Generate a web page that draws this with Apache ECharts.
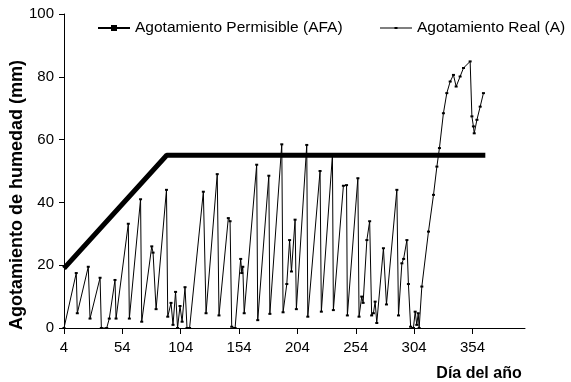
<!DOCTYPE html>
<html><head><meta charset="utf-8">
<script src="https://cdn.jsdelivr.net/npm/echarts@6/dist/echarts.min.js"></script>
<style>html,body{margin:0;padding:0;background:#fff}#c{width:571px;height:382px}</style>
</head><body><div id="c"></div>
<script>
// Tick labels
const xTicks = [4, 54, 104, 154, 204, 254, 304, 354];
const yTicks = [0, 20, 40, 60, 80, 100];
// Agotamiento Permisible (AFA)
const afaDays   = [4, 92, 365];
const afaValues = [19, 55, 55];
// Agotamiento Real (A)
const realDays = [4, 14.5, 15.4, 24.8, 26.3, 34.9, 36, 40.6, 42.8, 47.7, 48.6, 59.1, 60, 69.6, 70.6, 79.2, 80.3, 82.9, 91.8, 92.9,
  95.7, 97.4, 99.6, 101.3, 103.4, 105.2, 107.7, 109.4, 111.6,
  123.4, 125.7, 135.3, 136.8, 144.8, 146.3, 147.7, 150.6, 155.4, 156.3, 157.2, 158.4, 169.1, 170, 179.5, 180.4,
  190.6, 191.7, 194.9, 197.3, 198.9, 202, 203.1, 212, 212.9, 223.4, 224.5, 234, 234.8, 243.4, 246.1, 246.8,
  255.8, 256.8, 259.1, 260.3, 263.5, 265.9, 267.6, 269.1, 270.6, 272, 277.7, 280.3, 289.2, 290.6, 293.5, 295,
  297.8, 299.1, 301, 303.4, 304.9, 306.3, 307.5, 308.3, 310.6, 316.3, 320.6, 323.5, 325.7, 329.1, 332, 334.9,
  337.7, 340, 343.4, 346.3, 352, 353.5, 354.8, 355.5, 357.8, 360.6, 363.4];
const realValues = [0, 17.5, 4.7, 19.5, 3, 16, 0, 0, 3, 15.3, 3, 33.2, 3, 41, 2, 26, 24, 6, 44, 3.6,
  8, 1, 11.5, 0, 7, 2, 13, 0, 0,
  43.4, 4.7, 49, 4, 35, 34, 0.4, 0, 22, 17.5, 19.5, 4.7, 52, 2.5, 48.5, 4.5,
  58.5, 5, 14, 28, 18, 34.5, 6, 58.3, 3.6, 50, 5.2, 55, 5.7, 45.3, 45.5, 4,
  47.7, 3.6, 10, 8, 28, 34, 4, 4.7, 8.4, 1.6, 25.4, 7.5, 44, 4, 20.6, 22,
  28, 14, 0.4, 0, 5.2, 1, 4.7, 0, 13.2, 30.7, 42.4, 51.4, 57.3, 68.4, 74.8, 78.5,
  80.6, 76.9, 80.1, 82.8, 84.9, 67.4, 64.2, 62, 66.3, 70.5, 74.8];

const FONT = '"Liberation Sans", Arial, sans-serif';
const legendText = {fontFamily: FONT, fontSize: 15.5, color: '#000'};
const chart = echarts.init(document.getElementById('c'), null, {renderer: 'canvas'});
chart.setOption({
  animation: false,
  backgroundColor: '#fff',
  grid: {left: 64, top: 14, right: 46, bottom: 54, containLabel: false},
  legend: [
    {left: 93, top: 15, itemWidth: 32, itemHeight: 8, textStyle: legendText,
     data: [{name: 'Agotamiento Permisible (AFA)', icon: 'path://M0,3H32V5H0Z M13,1H19V7H13Z'}]},
    {left: 375, top: 15, itemWidth: 32, itemHeight: 8, textStyle: legendText,
     data: [{name: 'Agotamiento Real (A)', icon: 'path://M0,3.5H32V4.5H0Z M14.5,3H17.5V5H14.5Z'}]}
  ],
  xAxis: {
    type: 'value', min: 4, max: 399,
    axisLine: {lineStyle: {color: '#000', width: 1}},
    axisTick: {show: true, length: 6, inside: false, customValues: xTicks, lineStyle: {color: '#000'}},
    axisLabel: {customValues: xTicks, margin: 12, color: '#000', fontFamily: FONT, fontSize: 15},
    splitLine: {show: false}
  },
  yAxis: {
    type: 'value', min: 0, max: 100, interval: 20,
    axisLine: {show: true, lineStyle: {color: '#000', width: 1}},
    axisTick: {show: true, length: 5, lineStyle: {color: '#000'}},
    axisLabel: {margin: 10, color: '#000', fontFamily: FONT, fontSize: 15,
      formatter: v => yTicks.includes(v) ? String(v) : ''},
    splitLine: {show: false}
  },
  graphic: [
    {type: 'text', x: 17, y: 195, rotation: Math.PI / 2,
     style: {text: 'Agotamiento de humedad (mm)', font: 'bold 18px ' + FONT, fill: '#000', align: 'center', verticalAlign: 'middle'}},
    {type: 'text', x: 479, y: 374,
     style: {text: 'Día del año', font: 'bold 16px ' + FONT, fill: '#000', align: 'center', verticalAlign: 'middle'}}
  ],
  series: [
    {name: 'Agotamiento Permisible (AFA)', type: 'line', symbol: 'none',
     lineStyle: {color: '#000', width: 5}, itemStyle: {color: '#000'},
     data: afaDays.map((d, i) => [d, afaValues[i]])},
    {name: 'Agotamiento Real (A)', type: 'line', symbol: 'rect', symbolSize: [3, 2], showSymbol: true,
     lineStyle: {color: '#000', width: 1}, itemStyle: {color: '#000'},
     data: realDays.map((d, i) => [d, realValues[i]])}
  ]
});
</script></body></html>
